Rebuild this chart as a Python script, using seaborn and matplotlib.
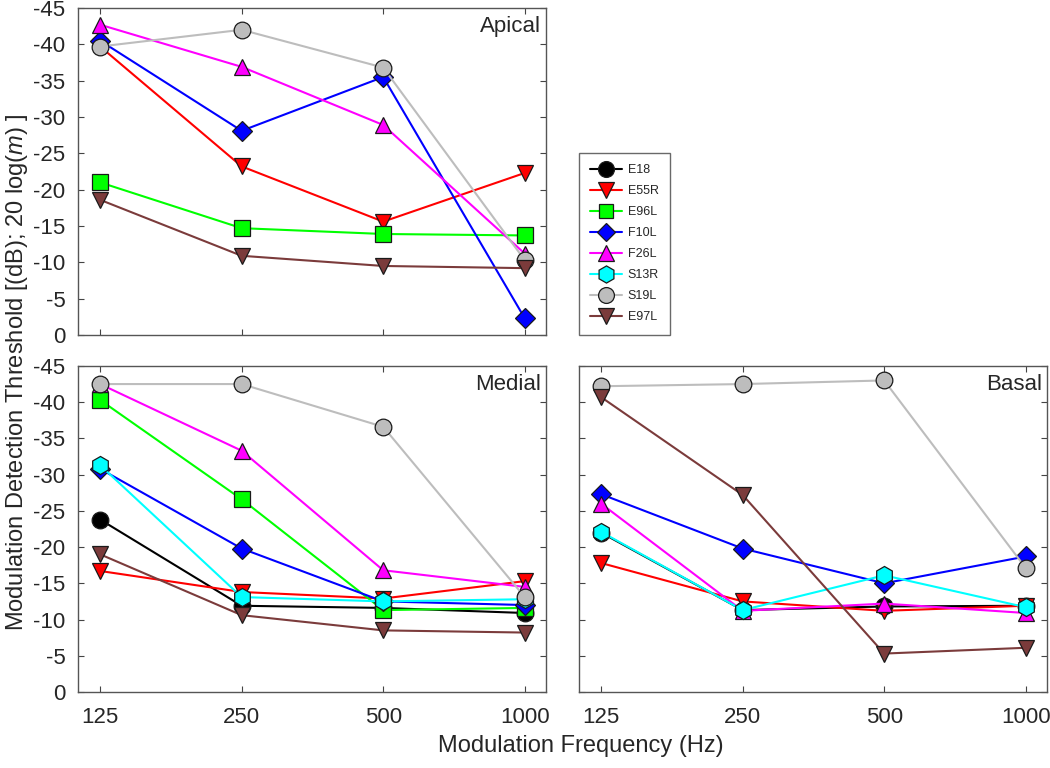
import matplotlib
matplotlib.use('Agg')
import pandas as pd
import matplotlib.pyplot as plt
from matplotlib.ticker import FixedLocator, NullLocator
import seaborn as sns

# ------------------------------------------------------------
# data (dB re 20 log(m))
# ------------------------------------------------------------
freqs = [125, 250, 500, 1000]
subjects = ['E18', 'E55R', 'E96L', 'F10L', 'F26L', 'S13R', 'S19L', 'E97L']

apical = {
    'E55R': [-39.7, -23.2, -15.6, -22.3],
    'E96L': [-21.0, -14.7, -13.9, -13.7],
    'F10L': [-40.5, -28.1, -35.5, -2.3],
    'F26L': [-42.7, -36.9, -28.9, -11.2],
    'S19L': [-39.7, -42.0, -36.8, -10.3],
    'E97L': [-18.6, -10.9, -9.5, -9.2],
}
medial = {
    'E18': [-23.8, -11.9, -11.6, -10.9],
    'E55R': [-16.7, -13.8, -12.9, -15.3],
    'E96L': [-40.3, -26.6, -11.3, -11.6],
    'F10L': [-30.8, -19.8, -12.5, -12.0],
    'F26L': [-42.5, -33.3, -16.8, -14.5],
    'S13R': [-31.3, -13.1, -12.5, -12.8],
    'S19L': [-42.5, -42.5, -36.6, -13.1],
    'E97L': [-19.0, -10.6, -8.5, -8.2],
}
basal = {
    'E18': [-22.0, -11.3, -11.8, -11.9],
    'E55R': [-17.8, -12.5, -11.2, -11.9],
    'F10L': [-27.3, -19.8, -15.0, -18.7],
    'F26L': [-26.0, -11.2, -12.2, -10.9],
    'S13R': [-22.1, -11.3, -16.1, -11.7],
    'S19L': [-42.2, -42.5, -43.0, -17.1],
    'E97L': [-40.7, -27.2, -5.3, -6.1],
}

colors = {'E18': '#000000', 'E55R': '#ff0000', 'E96L': '#00ff00', 'F10L': '#0000ff',
          'F26L': '#ff00ff', 'S13R': '#00ffff', 'S19L': '#bdbdbd', 'E97L': '#7b3b3b'}
markers = {'E18': 'o', 'E55R': 'v', 'E96L': 's', 'F10L': 'D',
           'F26L': '^', 'S13R': 'h', 'S19L': 'o', 'E97L': 'v'}
marker_sizes = {'o': 12, 'v': 12, 's': 11, 'D': 10, '^': 12, 'h': 13}

sns.set_theme(style='white')
plt.rcParams['font.family'] = ['Liberation Sans', 'DejaVu Sans']
plt.rcParams['axes.unicode_minus'] = False
plt.rcParams['mathtext.fontset'] = 'custom'
plt.rcParams['mathtext.rm'] = 'Liberation Sans'
plt.rcParams['mathtext.it'] = 'Liberation Sans:italic'

TICK_FS = 16
LABEL_FS = 17


def to_long(region: dict) -> pd.DataFrame:
    rows = []
    for subj in subjects:
        if subj not in region:
            continue
        for f, v in zip(freqs, region[subj]):
            rows.append({'subject': subj, 'freq': f, 'threshold': v})
    return pd.DataFrame(rows)


def draw_panel(ax, region: dict, name: str, show_x: bool, show_y: bool) -> None:
    df = to_long(region)
    # one lineplot call per subject so each marker size can differ
    for subj in [s for s in subjects if s in region]:
        sub = df[df['subject'] == subj]
        m = markers[subj]
        sns.lineplot(data=sub, x='freq', y='threshold', ax=ax,
                     color=colors[subj], marker=m, markersize=marker_sizes[m],
                     markerfacecolor=colors[subj], markeredgecolor='#1a1a1a',
                     markeredgewidth=0.9, linewidth=1.5, label=subj,
                     estimator=None, sort=False, legend=False)

    ax.set_xscale('log', base=2)
    ax.set_xlim(125 * 2 ** -0.156, 1000 * 2 ** 0.15)
    ax.xaxis.set_major_locator(FixedLocator(freqs))
    ax.xaxis.set_minor_locator(NullLocator())
    ax.set_xticklabels([str(f) for f in freqs] if show_x else [])
    ax.set_ylim(0, -45)
    ax.set_yticks(range(0, -50, -5))
    if not show_y:
        ax.set_yticklabels([])
    ax.set_xlabel('')
    ax.set_ylabel('')
    ax.tick_params(direction='in', length=4, width=0.8, color='#444444',
                   top=True, right=True, bottom=True, left=True,
                   labelsize=TICK_FS)
    ax.tick_params(axis='x', pad=11)
    ax.tick_params(axis='y', pad=9)
    for sp in ax.spines.values():
        sp.set_color('#555555')
        sp.set_linewidth(1.0)
    ax.text(0.99, 0.975, name, transform=ax.transAxes, ha='right', va='top',
            fontsize=16)


fig = plt.figure(figsize=(10.5, 7.68), dpi=100)
ax_a = fig.add_axes([0.0743, 0.5638, 0.4457, 0.4258])
ax_m = fig.add_axes([0.0743, 0.0990, 0.4457, 0.4245])
ax_b = fig.add_axes([0.5514, 0.0990, 0.4457, 0.4245])

draw_panel(ax_a, apical, 'Apical', show_x=False, show_y=True)
draw_panel(ax_m, medial, 'Medial', show_x=True, show_y=True)
draw_panel(ax_b, basal, 'Basal', show_x=True, show_y=False)

handles, labels = ax_m.get_legend_handles_labels()
leg = fig.legend(handles, labels, loc='upper left',
                 bbox_to_anchor=(579 / 1050, 1 - 153 / 768), borderaxespad=0,
                 fontsize=9, frameon=True, fancybox=False, edgecolor='#444444',
                 handlelength=2.5, labelspacing=0.72, borderpad=0.9,
                 handletextpad=0.5, markerscale=0.95)
leg.get_frame().set_linewidth(1.0)

fig.text(0.553, 0.028, 'Modulation Frequency (Hz)', ha='center', va='center',
         fontsize=LABEL_FS)
fig.text(0.016, 0.515, r'Modulation Detection Threshold [(dB); 20 log($\mathit{m}$) ]',
         ha='center', va='center', rotation=90, fontsize=LABEL_FS)

fig.savefig('out.png', dpi=100)
